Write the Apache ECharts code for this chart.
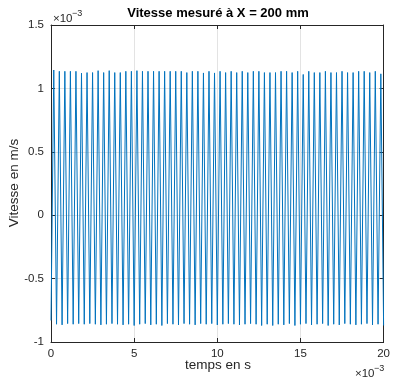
<!DOCTYPE html>
<html>
<head>
<meta charset="utf-8">
<script src="https://cdn.jsdelivr.net/npm/echarts@6/dist/echarts.min.js"></script>
<style>html,body{margin:0;padding:0;background:#fff}#c{width:393px;height:379px}</style>
</head>
<body>
<div id="c"></div>
<script>
// Time axis in ms (labels shown ×10^-3 s), values in ×10^-3 m/s
const halfPeriodMs = 1 / 6; // sample step between extremes (3 kHz signal)
const peaks = [
  1.145,1.135,1.135,1.135,1.135,1.12,1.125,1.125,1.14,1.125,1.14,1.125,1.125,1.135,1.135,1.14,1.135,1.135,1.135,1.135,
  1.135,1.135,1.135,1.135,1.125,1.135,1.135,1.122,1.135,1.122,1.135,1.125,1.135,1.125,1.135,1.125,1.135,1.135,1.125,1.125,
  1.125,1.135,1.135,1.125,1.135,1.11,1.135,1.125,1.125,1.135,1.125,1.125,1.135,1.125,1.125,1.135,1.135,1.125,1.135,1.115
];
const troughs = [
  -0.83,-0.86,-0.865,-0.855,-0.86,-0.855,-0.86,-0.855,-0.86,-0.865,-0.86,-0.855,-0.86,-0.865,-0.86,-0.87,-0.86,-0.855,-0.865,-0.86,
  -0.87,-0.855,-0.86,-0.865,-0.855,-0.86,-0.865,-0.855,-0.86,-0.855,-0.865,-0.86,-0.855,-0.86,-0.865,-0.86,-0.855,-0.86,-0.87,-0.86,
  -0.87,-0.86,-0.865,-0.855,-0.87,-0.86,-0.855,-0.865,-0.86,-0.855,-0.87,-0.86,-0.865,-0.855,-0.86,-0.865,-0.86,-0.855,-0.865,-0.86,-0.87
];
const xTicks = [0, 5, 10, 15, 20];
const yTicks = [-1, -0.5, 0, 0.5, 1, 1.5];

const series = [];
for (let k = 0; k < troughs.length; k++) {
  series.push([2 * k * halfPeriodMs, troughs[k]]);
  if (k < peaks.length) series.push([(2 * k + 1) * halfPeriodMs, peaks[k]]);
}

const FONT = 'Liberation Sans, Arial, Helvetica, sans-serif';
const AX = '#262626';
const chart = echarts.init(document.getElementById('c'), null, {renderer: 'canvas'});
const axisCommon = {
  axisLine: {show: true, onZero: false, lineStyle: {color: AX, width: 1}},
  axisTick: {show: true, inside: true, length: 4, lineStyle: {color: AX}},
};
chart.setOption({
  animation: false,
  grid: {left: 51, right: 7, top: 25, bottom: 37, containLabel: false},
  xAxis: [
    Object.assign({type: 'value', min: xTicks[0], max: xTicks[xTicks.length - 1], interval: 5,
      axisLabel: {show: true, color: AX, fontSize: 11.5, fontFamily: FONT, margin: 6},
      splitLine: {show: true, lineStyle: {color: '#e3e3e3', width: 1}}}, axisCommon),
    Object.assign({type: 'value', position: 'top', min: 0, max: 20, interval: 5,
      axisLabel: {show: false}, splitLine: {show: false}}, axisCommon)
  ],
  yAxis: [
    Object.assign({type: 'value', min: yTicks[0], max: yTicks[yTicks.length - 1], interval: 0.5,
      axisLabel: {show: true, color: AX, fontSize: 11.5, fontFamily: FONT, margin: 7,
        formatter: v => String(v)},
      splitLine: {show: true, lineStyle: {color: '#e3e3e3', width: 1}}}, axisCommon),
    Object.assign({type: 'value', position: 'right', min: -1, max: 1.5, interval: 0.5,
      axisLabel: {show: false}, splitLine: {show: false}}, axisCommon)
  ],
  series: [{
    type: 'line', data: series, showSymbol: false, symbol: 'none', sampling: null,
    lineStyle: {color: '#0072BD', width: 1}, xAxisIndex: 0, yAxisIndex: 0, z: 3
  }],
  graphic: [
    {type: 'text', x: 218, y: 13, style: {text: 'Vitesse mesuré à X = 200 mm', font: 'bold 13px ' + FONT, fill: '#000', textAlign: 'center', textVerticalAlign: 'middle'}},
    {type: 'text', x: 14, y: 183, rotation: Math.PI / 2, style: {text: 'Vitesse en m/s', font: '13.5px ' + FONT, fill: AX, textAlign: 'center', textVerticalAlign: 'middle'}},
    {type: 'text', x: 218, y: 365, style: {text: 'temps en s', font: '13.5px ' + FONT, fill: AX, textAlign: 'center', textVerticalAlign: 'middle'}},
    {type: 'text', x: 53, y: 18.5, style: {text: '×10', font: '11.5px ' + FONT, fill: AX, textVerticalAlign: 'middle'}},
    {type: 'text', x: 72, y: 14, style: {text: '\u22123', font: '9px ' + FONT, fill: AX, textVerticalAlign: 'middle'}},
    {type: 'text', x: 355, y: 373.5, style: {text: '×10', font: '11.5px ' + FONT, fill: AX, textVerticalAlign: 'middle'}},
    {type: 'text', x: 374, y: 368.5, style: {text: '\u22123', font: '9px ' + FONT, fill: AX, textVerticalAlign: 'middle'}}
  ]
});
</script>
</body>
</html>
